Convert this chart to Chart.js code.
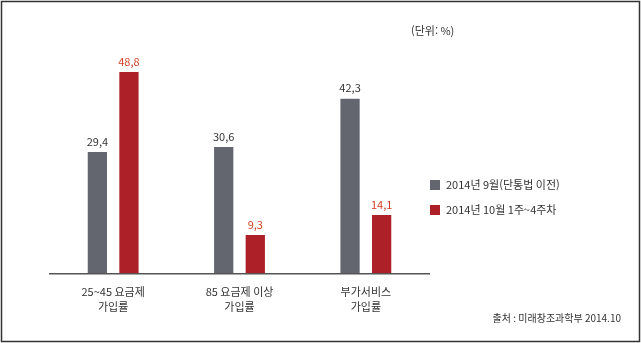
<!DOCTYPE html>
<html lang="ko">
<head>
  <meta charset="UTF-8">
  <title>단통법 이후 요금제 가입률</title>
  <script src="https://cdn.jsdelivr.net/npm/chart.js"></script>
  <style>
    body { margin: 0; background: #fff; }
    canvas { display: block; }
  </style>
</head>
<body>
  <canvas id="chart" width="641" height="343"></canvas>
  <script>
    const categories = [['25~45 요금제', '가입률'], ['85 요금제 이상', '가입률'], ['부가서비스', '가입률']];
    const seriesNames = ['2014년 9월(단통법 이전)', '2014년 10월 1주~4주차'];
    const before = [29.4, 30.6, 42.3];
    const after = [48.8, 9.3, 14.1];
    const barColors = ['#63666f', '#ae2028'];
    const labelColors = ['#333333', '#d23f22'];

    const FONT = '"Noto Sans CJK KR", "Noto Sans", sans-serif';

    // value labels above bars, legend, unit, source and frame
    const extras = {
      id: 'extras',
      afterDatasetsDraw(chart) {
        const ctx = chart.ctx;
        ctx.save();
        ctx.font = '11px ' + FONT;
        ctx.textAlign = 'center';
        ctx.textBaseline = 'bottom';
        chart.data.datasets.forEach((ds, i) => {
          chart.getDatasetMeta(i).data.forEach((bar, j) => {
            ctx.fillStyle = labelColors[i];
            ctx.fillText(ds.data[j].toFixed(1).replace('.', ','), bar.x, bar.y - 5);
          });
        });

        // legend
        ctx.textAlign = 'left';
        ctx.textBaseline = 'middle';
        chart.data.datasets.forEach((ds, i) => {
          const y = 185 + i * 25;
          ctx.fillStyle = ds.backgroundColor;
          ctx.fillRect(430, y - 5, 10, 10);
          ctx.fillStyle = '#333';
          ctx.fillText(ds.label, 446, y);
        });

        ctx.fillStyle = '#333';
        ctx.fillText('(단위: %)', 411, 31);
        ctx.textAlign = 'right';
        ctx.font = '10px ' + FONT;
        ctx.fillText('출처 : 미래창조과학부 2014.10', 621, 318);

        ctx.strokeStyle = '#333';
        ctx.lineWidth = 1.5;
        ctx.strokeRect(1.5, 1.5, 638, 340);
        ctx.restore();
      }
    };

    new Chart(document.getElementById('chart'), {
      type: 'bar',
      data: {
        labels: categories,
        datasets: [
          { label: seriesNames[0], data: before, backgroundColor: barColors[0] },
          { label: seriesNames[1], data: after, backgroundColor: barColors[1] }
        ]
      },
      options: {
        responsive: false,
        animation: false,
        categoryPercentage: 0.5,
        barPercentage: 0.61,
        layout: { padding: { left: 50, right: 212, top: 67, bottom: 26 } },
        plugins: {
          legend: { display: false },
          tooltip: { enabled: false }
        },
        scales: {
          x: {
            grid: { display: false },
            border: { color: '#555', width: 1.5 },
            ticks: { color: '#333', font: { family: FONT, size: 11, lineHeight: 1.35 }, padding: 3 }
          },
          y: { display: false, min: 0, max: 50 }
        }
      },
      plugins: [extras]
    });
  </script>
</body>
</html>
